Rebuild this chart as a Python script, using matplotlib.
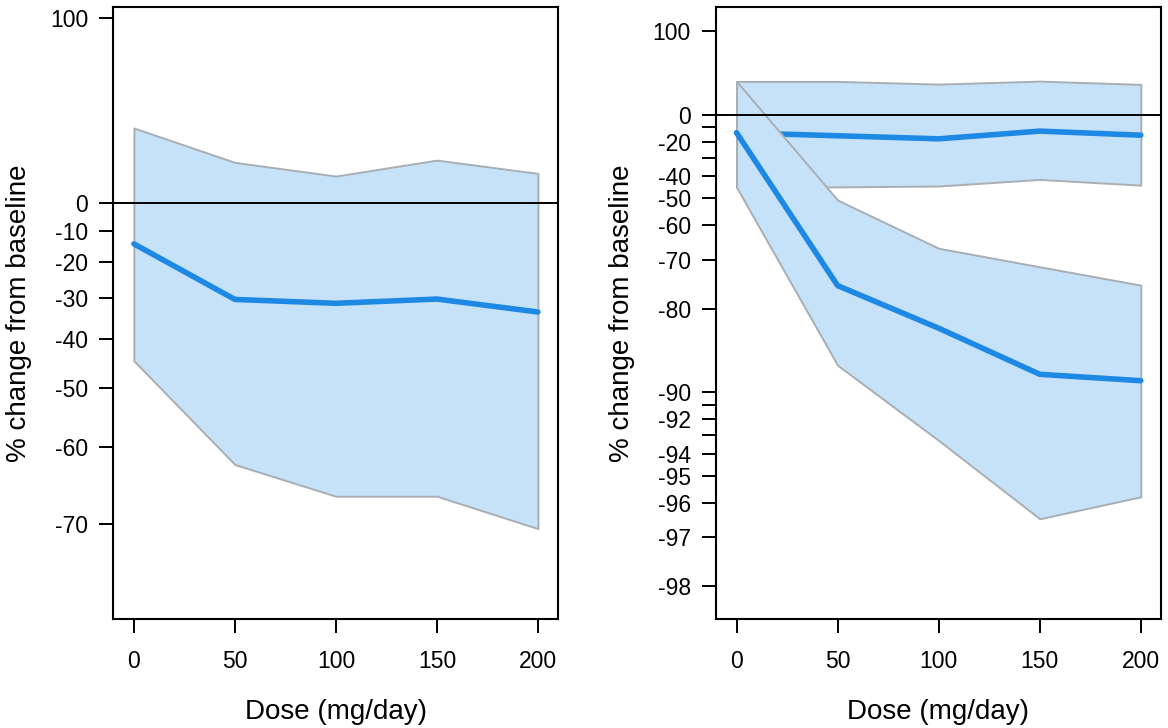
import numpy as np
import matplotlib
matplotlib.use("Agg")
import matplotlib.pyplot as plt

plt.rcParams['font.family'] = ['Liberation Sans', 'DejaVu Sans']
plt.rcParams['xtick.labelsize'] = 16.5
plt.rcParams['ytick.labelsize'] = 16.5

dose = [0, 50, 100, 150, 200]

# left panel (% change from baseline)
left_mean = [-14.3, -30.4, -31.4, -30.3, -33.6]
left_upper = [32.3, 16.3, 10.5, 17.3, 11.6]
left_lower = [-44.7, -62.5, -66.7, -66.7, -70.5]

# right panel, flat series
a_mean = [-14.0, -16.1, -18.2, -12.8, -15.7]
a_upper = [31.7, 31.7, 28.8, 32.0, 28.5]
a_lower = [-45.3, -45.1, -44.7, -41.6, -44.3]

# right panel, falling series
b_mean = [-14.0, -75.8, -83.0, -88.4, -89.0]
b_upper = [31.7, -50.8, -67.0, -71.7, -75.7]
b_lower = [-45.3, -87.5, -93.3, -96.5, -95.8]

left_ticks = [100, 0, -10, -20, -30, -40, -50, -60, -70]
left_labels = [str(t) for t in left_ticks]
right_ticks = [100, 0, -10, -20, -30, -40, -50, -60, -70, -80, -90, -91,
               -92, -93, -94, -95, -96, -97, -98]
right_labels = ["100", "0", "", "-20", "", "-40", "-50", "-60", "-70", "-80",
                "-90", "", "-92", "", "-94", "-95", "-96", "-97", "-98"]

fill_col = "#c6e2f9"
edge_col = "#a9aeb3"
line_col = "#1e88e5"


def fwd(p):
    p = np.asarray(p, dtype=float)
    with np.errstate(invalid="ignore", divide="ignore"):
        return np.log1p(np.clip(p, -99.999, None) / 100.0)


def inv(y):
    return 100.0 * np.expm1(np.asarray(y, dtype=float))


def band(ax, lo, hi, mid, z):
    ax.fill_between(dose, lo, hi, facecolor=fill_col, edgecolor=edge_col,
                    linewidth=1.4, zorder=z)
    ax.plot(dose, mid, color=line_col, linewidth=4.0, zorder=z + 1,
            solid_capstyle="round")


def style(ax, ylim, ticks, labels):
    ax.set_yscale("function", functions=(fwd, inv))
    ax.set_xlim(-10.2, 209.8)
    ax.set_ylim(*ylim)
    ax.axhline(0, color="black", linewidth=1.4, zorder=10)
    ax.set_xticks(dose)
    ax.set_xticklabels([str(d) for d in dose])
    ax.set_yticks(ticks)
    ax.set_yticklabels(labels)
    ax.minorticks_off()
    ax.tick_params(axis="both", direction="out", length=10, width=1.4,
                   colors="black", labelsize=16.5)
    ax.tick_params(axis="x", pad=12)
    ax.tick_params(axis="y", pad=8)
    for s in ax.spines.values():
        s.set_linewidth(1.5)
        s.set_color("black")
        s.set_zorder(12)
    ax.set_xlabel("Dose (mg/day)", fontsize=20, labelpad=19)
    ax.set_ylabel("% change from baseline", fontsize=20, labelpad=13)


fig = plt.figure(figsize=(11.68, 7.28), dpi=100)
ax1 = fig.add_axes([0.097, 0.1493, 0.3805, 0.841])
ax2 = fig.add_axes([0.613, 0.1493, 0.3807, 0.841])

band(ax1, left_lower, left_upper, left_mean, 2)
style(ax1, (-79.0, 108.1), left_ticks, left_labels)

band(ax2, a_lower, a_upper, a_mean, 2)
band(ax2, b_lower, b_upper, b_mean, 4)
style(ax2, (-98.48, 144.0), right_ticks, right_labels)

fig.savefig("out.png", dpi=100)
